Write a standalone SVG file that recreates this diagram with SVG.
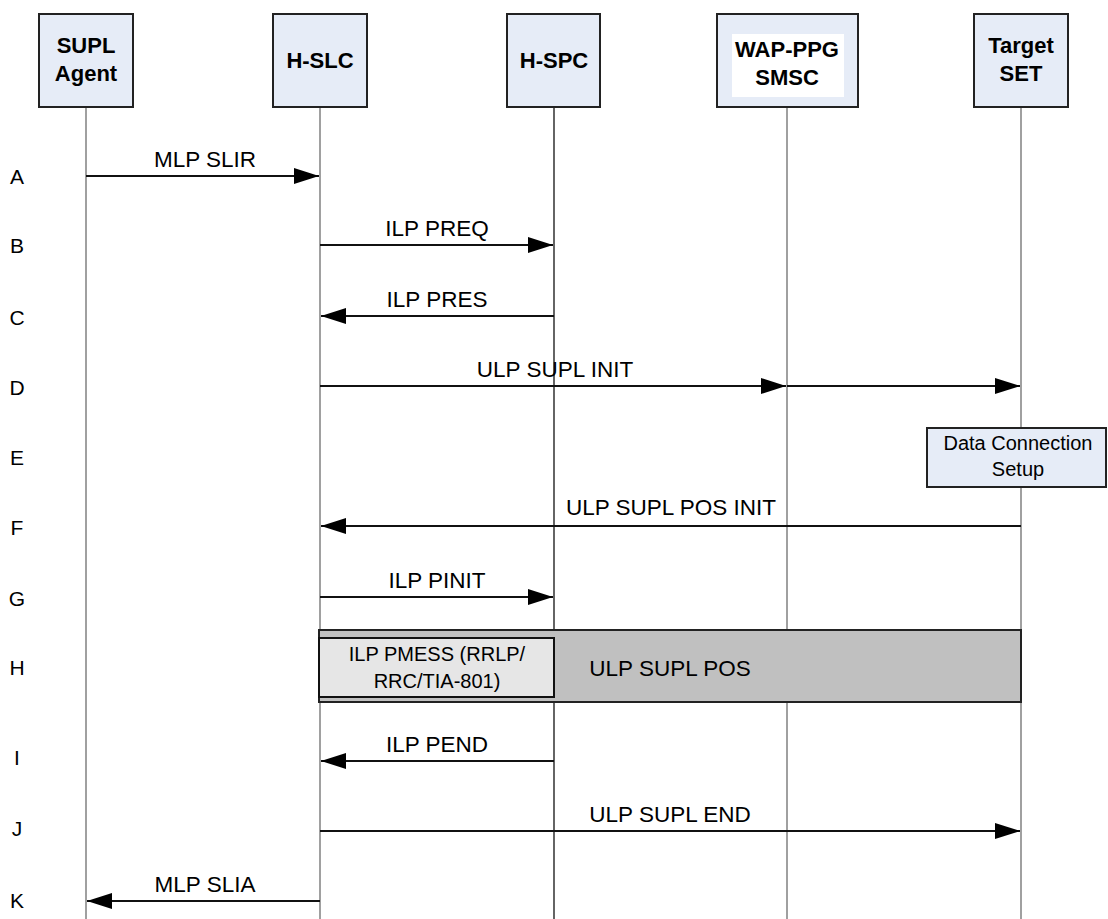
<svg xmlns="http://www.w3.org/2000/svg" width="1108" height="919" viewBox="0 0 1108 919">
<style>
.hdr{fill:#e6ecf7;stroke:#222;stroke-width:2}
.ht{font-family:"Liberation Sans",Arial,sans-serif;font-size:22px;font-weight:bold;text-anchor:middle;fill:#000}
.life{stroke:#808080;stroke-width:1.5}
.msg{stroke:#111;stroke-width:2;fill:none;marker-end:url(#ah)}
.ml{font-family:"Liberation Sans",Arial,sans-serif;font-size:22.5px;text-anchor:middle;fill:#000}
.row{font-family:"Liberation Sans",Arial,sans-serif;font-size:21px;text-anchor:middle;fill:#000}
.sm{font-family:"Liberation Sans",Arial,sans-serif;font-size:20px;text-anchor:middle;fill:#000}
</style>
<defs>
<marker id="ah" markerUnits="userSpaceOnUse" markerWidth="26" markerHeight="18" refX="25" refY="8" orient="auto">
<path d="M0,0 L25,8 L0,16 z" fill="#000"/>
</marker>
</defs>
<rect width="1108" height="919" fill="#fff"/>
<g id="lifelines">
<line class="life" x1="86" y1="107" x2="86" y2="919"/>
<line class="life" x1="320" y1="107" x2="320" y2="919"/>
<line x1="554" y1="107" x2="554" y2="919" stroke="#111" stroke-width="1.3"/>
<line class="life" x1="787" y1="107" x2="787" y2="919"/>
<line class="life" x1="1021" y1="107" x2="1021" y2="919"/>
</g>
<g id="supl-agent">
<rect class="hdr" x="39" y="14" width="94" height="93"/>
<text class="ht" x="86" y="53">SUPL</text>
<text class="ht" x="86" y="81">Agent</text>
</g>
<g id="h-slc">
<rect class="hdr" x="273" y="14" width="94" height="93"/>
<text class="ht" x="320" y="68">H-SLC</text>
</g>
<g id="h-spc">
<rect class="hdr" x="507" y="14" width="93" height="93"/>
<text class="ht" x="554" y="68">H-SPC</text>
</g>
<g id="wap-ppg-smsc">
<rect class="hdr" x="717" y="14" width="141" height="93"/>
<rect x="732" y="34" width="112" height="63" fill="#fff"/>
<text class="ht" x="787" y="57">WAP-PPG</text>
<text class="ht" x="787" y="85">SMSC</text>
</g>
<g id="target-set">
<rect class="hdr" x="974" y="14" width="94" height="93"/>
<text class="ht" x="1021" y="53">Target</text>
<text class="ht" x="1021" y="81">SET</text>
</g>
<g id="row-labels">
<text class="row" x="17" y="184">A</text>
<text class="row" x="17" y="253">B</text>
<text class="row" x="17" y="325">C</text>
<text class="row" x="17" y="395">D</text>
<text class="row" x="17" y="465">E</text>
<text class="row" x="17" y="535">F</text>
<text class="row" x="17" y="606">G</text>
<text class="row" x="17" y="675">H</text>
<text class="row" x="17" y="765">I</text>
<text class="row" x="17" y="836">J</text>
<text class="row" x="17" y="908">K</text>
</g>
<g id="data-connection-setup">
<rect x="927" y="428" width="179" height="59" fill="#e6ecf7" stroke="#222" stroke-width="2"/>
<text class="sm" x="1018" y="450">Data Connection</text>
<text class="sm" x="1018" y="476">Setup</text>
</g>
<g id="ulp-supl-pos">
<rect x="319" y="630" width="702" height="72" fill="#c0c0c0" stroke="#222" stroke-width="2"/>
<rect x="319" y="638" width="235" height="59" fill="#e6e6e6" stroke="#111" stroke-width="2"/>
<text class="sm" x="437" y="661">ILP PMESS (RRLP/</text>
<text class="sm" x="437" y="688">RRC/TIA-801)</text>
<text class="ml" x="670" y="676">ULP SUPL POS</text>
</g>
<g id="connectors">
<line class="msg" x1="86" y1="176" x2="319" y2="176"/>
<text class="ml" x="205" y="167">MLP SLIR</text>
<line class="msg" x1="320" y1="245" x2="553" y2="245"/>
<text class="ml" x="437" y="236">ILP PREQ</text>
<line class="msg" x1="554" y1="316" x2="321" y2="316"/>
<text class="ml" x="437" y="307">ILP PRES</text>
<line class="msg" x1="320" y1="386" x2="786" y2="386"/>
<line class="msg" x1="787" y1="386" x2="1020" y2="386"/>
<text class="ml" x="555" y="377">ULP SUPL INIT</text>
<line class="msg" x1="1021" y1="526" x2="321" y2="526"/>
<text class="ml" x="671" y="515">ULP SUPL POS INIT</text>
<line class="msg" x1="320" y1="597" x2="553" y2="597"/>
<text class="ml" x="437" y="588">ILP PINIT</text>
<line class="msg" x1="554" y1="761" x2="321" y2="761"/>
<text class="ml" x="437" y="752">ILP PEND</text>
<line class="msg" x1="320" y1="831" x2="1020" y2="831"/>
<text class="ml" x="670" y="822">ULP SUPL END</text>
<line class="msg" x1="320" y1="901" x2="87" y2="901"/>
<text class="ml" x="205" y="892">MLP SLIA</text>
</g>
</svg>
